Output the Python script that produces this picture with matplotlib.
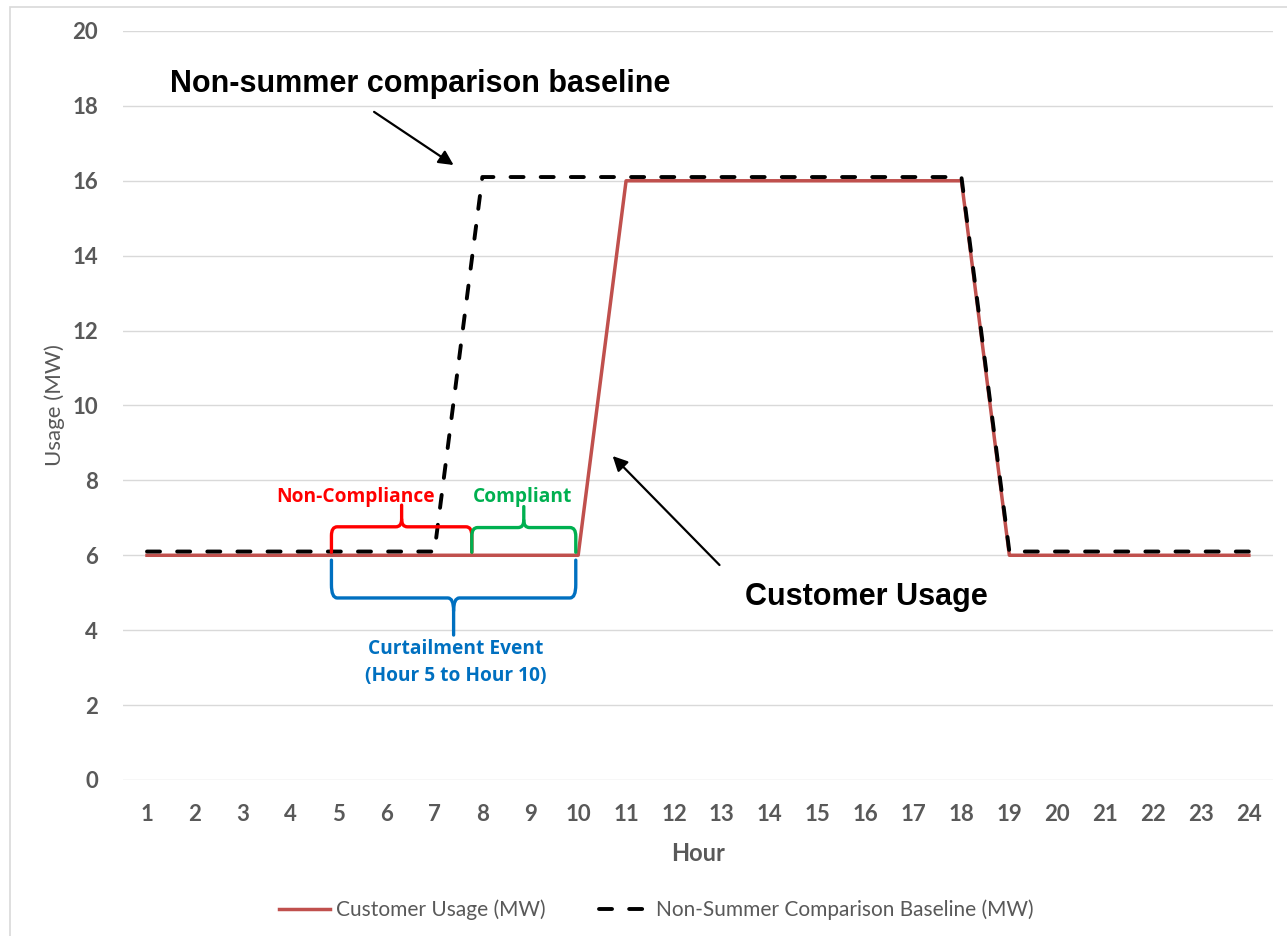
import matplotlib
matplotlib.use("Agg")
import matplotlib.pyplot as plt
from matplotlib.path import Path
from matplotlib.patches import PathPatch, Rectangle

hours = list(range(1, 25))
customer_usage = [6, 6, 6, 6, 6, 6, 6, 6, 6, 6,
                  16, 16, 16, 16, 16, 16, 16, 16,
                  6, 6, 6, 6, 6, 6]
baseline = [6.1, 6.1, 6.1, 6.1, 6.1, 6.1, 6.1,
            16.1, 16.1, 16.1, 16.1, 16.1, 16.1, 16.1, 16.1, 16.1, 16.1, 16.1,
            6.1, 6.1, 6.1, 6.1, 6.1, 6.1]
y_ticks = [0, 2, 4, 6, 8, 10, 12, 14, 16, 18, 20]

TICK_GRAY = "#595959"
RED = "#C0504D"

fig = plt.figure(figsize=(12.87, 9.36), dpi=100)
ax = fig.add_axes([0.0956, 0.1667, 0.8934, 0.8002])

# outer chart-area frame
fig.patches.append(Rectangle((10 / 1287, -0.01), 1.02, 1 - 7 / 936 + 0.01,
                             transform=fig.transFigure, fill=False,
                             edgecolor="#D9D9D9", linewidth=1.2))

ax.plot(hours, customer_usage, color=RED, linewidth=2.5,
        label="Customer Usage (MW)", zorder=3)
ax.plot(hours, baseline, color="black", linewidth=2.8,
        linestyle=(0, (3.35, 4.4)), dash_capstyle="round",
        label="Non-Summer Comparison Baseline (MW)", zorder=4)

ax.set_xlim(0.5, 24.5)
ax.set_ylim(0, 20)
ax.set_xticks(hours)
ax.set_yticks(y_ticks)
for s in ax.spines.values():
    s.set_visible(False)
ax.grid(axis="y", color="#D9D9D9", linewidth=1.0)
ax.set_axisbelow(True)
ax.tick_params(length=0, labelcolor=TICK_GRAY, labelsize=16)
ax.tick_params(axis="x", pad=17.5)
ax.tick_params(axis="y", pad=18)
for lab in ax.get_xticklabels() + ax.get_yticklabels():
    lab.set_fontweight("bold")
    lab.set_family("Lato")

ax.set_xlabel("Hour", fontsize=17, fontweight="bold", color=TICK_GRAY,
              family="Lato", labelpad=12)
ax.set_ylabel("Usage (MW)", fontsize=16, color=TICK_GRAY, family="Lato",
              labelpad=5)


def brace(x0, x1, y_end, y_bar, y_tip, color, lw=2.4):
    """Curly brace spanning x0..x1, ends at y_end, bar at y_bar, tip at y_tip."""
    xm = (x0 + x1) / 2
    dx = 0.12
    dy = (y_bar - y_end) * 0.35
    ty = (y_tip - y_bar) * 0.35
    verts = [
        (x0, y_end), (x0, y_bar - dy), (x0, y_bar), (x0 + dx, y_bar),
        (xm - dx, y_bar), (xm, y_bar), (xm, y_bar + ty),
        (xm, y_tip),
    ]
    codes = [Path.MOVETO, Path.LINETO, Path.CURVE3, Path.CURVE3,
             Path.LINETO, Path.CURVE3, Path.CURVE3, Path.LINETO]
    verts2 = [
        (x1, y_end), (x1, y_bar - dy), (x1, y_bar), (x1 - dx, y_bar),
        (xm + dx, y_bar), (xm, y_bar), (xm, y_bar + ty),
    ]
    codes2 = [Path.MOVETO, Path.LINETO, Path.CURVE3, Path.CURVE3,
              Path.LINETO, Path.CURVE3, Path.CURVE3]
    for v, c in ((verts, codes), (verts2, codes2)):
        ax.add_patch(PathPatch(Path(v, c), fill=False, edgecolor=color,
                               linewidth=lw, capstyle="round",
                               joinstyle="round", zorder=5))


RED_TXT = "#FF0000"
GREEN_TXT = "#00B050"
BLUE_TXT = "#0070C0"

brace(4.85, 7.78, 6.08, 6.76, 7.34, RED_TXT)
brace(7.78, 9.95, 6.08, 6.74, 7.3, GREEN_TXT)
brace(4.85, 9.95, 5.87, 4.86, 3.87, BLUE_TXT)

ann_font = dict(family="Open Sans", fontweight="bold", fontsize=13.8)
ax.text(5.36, 7.56, "Non-Compliance", color=RED_TXT, ha="center", va="center",
        **ann_font)
ax.text(8.83, 7.56, "Compliant", color=GREEN_TXT, ha="center", va="center",
        **ann_font)
ax.text(7.44, 3.5, "Curtailment Event", color=BLUE_TXT, ha="center",
        va="center", **ann_font)
ax.text(7.44, 2.78, "(Hour 5 to Hour 10)", color=BLUE_TXT, ha="center",
        va="center", **ann_font)

arrow = dict(arrowstyle="-|>", color="black", lw=1.6, mutation_scale=22,
             shrinkA=0, shrinkB=0)
ax.annotate("", xy=(7.4, 16.42), xytext=(5.74, 17.84), arrowprops=arrow)
ax.annotate("", xy=(10.72, 8.65), xytext=(12.95, 5.74), arrowprops=arrow)
ax.text(1.48, 18.58, "Non-summer comparison baseline", fontsize=22,
        fontweight="bold", family="Liberation Sans", ha="left", va="center")
ax.text(13.49, 4.89, "Customer Usage", fontsize=22, fontweight="bold",
        family="Liberation Sans", ha="left", va="center")

leg = fig.legend(loc="center", bbox_to_anchor=(0.51, 0.028), ncol=2,
                 frameon=False, handlelength=2.45, columnspacing=2.6,
                 handletextpad=0.25,
                 prop=dict(family="Lato", size=15))
for t in leg.get_texts():
    t.set_color(TICK_GRAY)

fig.savefig("out.png", dpi=100)
